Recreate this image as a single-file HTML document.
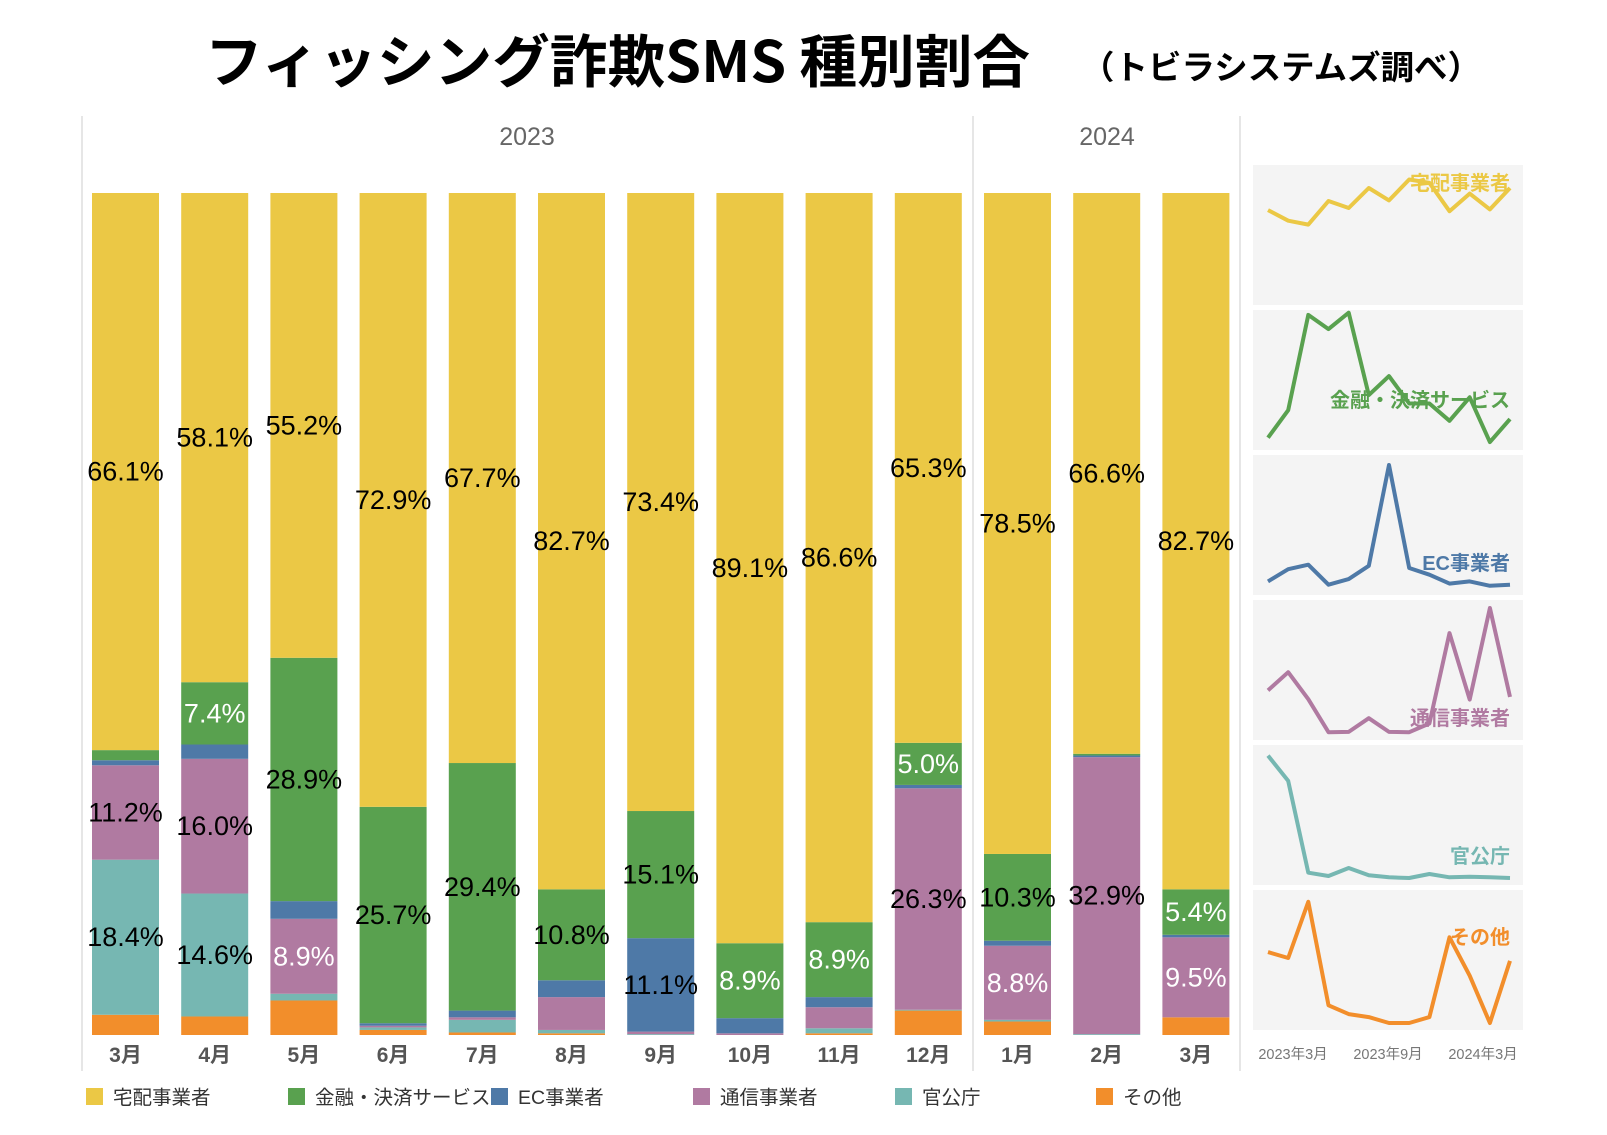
<!DOCTYPE html>
<html><head><meta charset="utf-8">
<style>
html,body{margin:0;padding:0;background:#fff;}
svg{display:block;font-family:"Liberation Sans","Noto Sans CJK JP",sans-serif;}
</style></head>
<body>
<svg id="chart" width="1607" height="1135" viewBox="0 0 1607 1135" xmlns="http://www.w3.org/2000/svg">
  <text x="205" y="82" font-size="57" font-weight="bold" fill="#000" textLength="825" lengthAdjust="spacingAndGlyphs" font-family="'Noto Sans CJK JP',sans-serif">フィッシング詐欺SMS 種別割合</text>
  <text x="1081" y="79" font-size="33" font-weight="bold" fill="#000" textLength="400" lengthAdjust="spacingAndGlyphs" font-family="'Noto Sans CJK JP',sans-serif">（トビラシステムズ調べ）</text>
  <text x="527" y="145" font-size="25" fill="#666" text-anchor="middle">2023</text>
  <text x="1107" y="145" font-size="25" fill="#666" text-anchor="middle">2024</text>
  <line x1="82" y1="116" x2="82" y2="1071" stroke="#ddd" stroke-width="1.5"/>
  <line x1="973" y1="116" x2="973" y2="1071" stroke="#ddd" stroke-width="1.5"/>
  <line x1="1240" y1="116" x2="1240" y2="1071" stroke="#ddd" stroke-width="1.5"/>
  <g id="bars"></g>
  <g id="spark"></g>
  <g id="legend"></g>
</svg>
<script>
const months = ['3月','4月','5月','6月','7月','8月','9月','10月','11月','12月','1月','2月','3月'];
const delivery = [66.1,58.1,55.2,72.9,67.7,82.7,73.4,89.1,86.6,65.3,78.5,66.6,82.7];
const finance = [1.2,7.4,28.9,25.7,29.4,10.8,15.1,8.9,8.9,5.0,10.3,0.2,5.4];
const ec = [0.6,1.7,2.1,0.3,0.8,2.0,11.1,1.8,1.2,0.4,0.6,0.2,0.3];
const telecom = [11.2,16.0,8.9,0.2,0.3,3.9,0.3,0.2,2.5,26.3,8.8,32.9,9.5];
const gov = [18.4,14.6,0.8,0.3,1.5,0.4,0.1,0.0,0.6,0.1,0.2,0.1,0.0];
const other = [2.4,2.2,4.1,0.6,0.3,0.2,0.0,0.0,0.2,2.9,1.6,0.0,2.1];
const seriesNames = ['宅配事業者','金融・決済サービス','EC事業者','通信事業者','官公庁','その他'];
const sparkAxisMax = [100,30,12,35,20,4.5];
const sparkTicks = ['2023年3月','2023年9月','2024年3月'];

const NS='http://www.w3.org/2000/svg';
const colors=['#ebc845','#59a14f','#4e79a7','#b07aa1','#76b7b2','#f28e2b'];
const keys=['delivery','finance','ec','telecom','gov','other'];
const series=[delivery,finance,ec,telecom,gov,other];
function mk(tag,attrs,parent){const e=document.createElementNS(NS,tag);for(const k in attrs)e.setAttribute(k,attrs[k]);parent.appendChild(e);return e;}

const barTop=193, barBottom=1035, barX0=92, barStep=89.2, barW=67;
function xBar(i){return barX0+i*barStep;}
function yScale(cum){return barBottom-cum/100*(barBottom-barTop);}

const gB=document.getElementById('bars');
const order=[5,4,3,2,1,0];
months.forEach((m,i)=>{
  let total=0; series.forEach(s=>total+=s[i]);
  let cum=0;
  order.forEach(si=>{
    const v=series[si][i]/total*100;
    const y1=yScale(cum), y2=yScale(cum+v);
    if(v>0){
      const r=mk('rect',{x:xBar(i),y:y2,width:barW,height:Math.max(0,y1-y2),fill:colors[si]},gB);
      
      
    }
    const raw=series[si][i];
    if(raw>=5){
      const t=mk('text',{x:xBar(i)+barW/2,y:(y1+y2)/2+9,'font-size':27,'text-anchor':'middle',fill:(si===0||raw>=10)?'#000':'#fff'},gB);
      t.textContent=raw.toFixed(1)+'%';
      
      
    }
    cum+=v;
  });
  const ml=mk('text',{x:xBar(i)+barW/2,y:1062,'font-size':21,'font-weight':'bold','text-anchor':'middle',fill:'#555'},gB);
  ml.textContent=m;
  
  
});

const gS=document.getElementById('spark');
const pX=1253,pW=270,pH=140,pY0=165,pStep=145,sx0=1268,sStep=20.17;
const labelY=[190,407,570,725,863,944];
function xSpark(i){return sx0+i*sStep;}
function ySpark(p,v){const bottom=pY0+p*pStep+pH;return bottom-7-v/sparkAxisMax[p]*133;}
series.forEach((s,p)=>{
  const r=mk('rect',{x:pX,y:pY0+p*pStep,width:pW,height:pH,fill:'#f4f4f4'},gS);
  
  
  const pts=s.map((v,i)=>xSpark(i).toFixed(1)+','+ySpark(p,v).toFixed(1)).join(' ');
  const pl=mk('polyline',{points:pts,fill:'none',stroke:colors[p],'stroke-width':4,'stroke-linejoin':'round'},gS);
  
  
  const t=mk('text',{x:1510,y:labelY[p],'font-size':20,'font-weight':'bold','text-anchor':'end',fill:colors[p]},gS);
  t.textContent=seriesNames[p];
  
  
});
sparkTicks.forEach((tk,j)=>{
  const t=mk('text',{x:1293+j*95,y:1059,'font-size':14.5,'text-anchor':'middle',fill:'#777'},gS);
  t.textContent=tk;
  
  
});

const gL=document.getElementById('legend');
const legX=[86,288,491,693,895,1096];
seriesNames.forEach((n,k)=>{
  const r=mk('rect',{x:legX[k],y:1088,width:17,height:17,fill:colors[k]},gL);
  
  
  const t=mk('text',{x:legX[k]+27,y:1104,'font-size':19.5,fill:'#333'},gL);
  t.textContent=n;
  
  
});
</script>
</body></html>
